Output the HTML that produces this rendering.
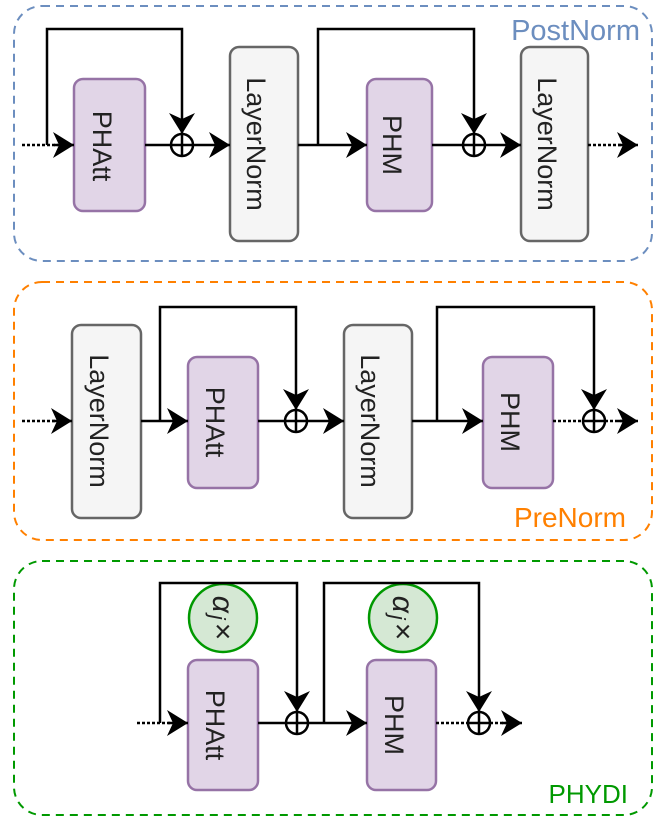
<!DOCTYPE html>
<html><head><meta charset="utf-8"><style>
html,body{margin:0;padding:0;background:#fff;}
svg{display:block;}
text{font-family:"Liberation Sans",sans-serif;}
</style></head><body>
<svg width="665" height="826" viewBox="0 0 665 826" xmlns="http://www.w3.org/2000/svg">
<defs>
<marker id="a" markerUnits="userSpaceOnUse" markerWidth="24" markerHeight="28" refX="21" refY="13" orient="auto">
<path d="M21,13 L0,0 L6,13 L0,26 Z" fill="#000"/>
</marker>
</defs>
<rect x="14" y="6" width="638" height="255" rx="28" fill="none" stroke="#6c8ebf" stroke-width="2" stroke-dasharray="8,6"/>
<text x="640" y="40" style="font-size:29px" fill="#6c8ebf" text-anchor="end">PostNorm</text>
<rect x="14" y="282" width="638" height="258" rx="28" fill="none" stroke="#ff8000" stroke-width="2" stroke-dasharray="8,6"/>
<text x="626" y="527" style="font-size:28px" fill="#ff8000" text-anchor="end">PreNorm</text>
<rect x="14" y="561" width="638" height="254" rx="28" fill="none" stroke="#009900" stroke-width="2" stroke-dasharray="8,6"/>
<text x="628" y="803" style="font-size:26px" fill="#009900" text-anchor="end">PHYDI</text>

<g stroke-width="2.5">
<rect x="74" y="79" width="71" height="132" rx="9" fill="#e1d5e7" stroke="#9673a6"/>
<rect x="230" y="47" width="68" height="194" rx="9" fill="#f5f5f5" stroke="#666"/>
<rect x="367" y="79" width="65" height="132" rx="9" fill="#e1d5e7" stroke="#9673a6"/>
<rect x="521" y="47" width="67" height="194" rx="9" fill="#f5f5f5" stroke="#666"/>
<rect x="72" y="325" width="69" height="193" rx="9" fill="#f5f5f5" stroke="#666"/>
<rect x="188" y="357" width="70" height="131" rx="9" fill="#e1d5e7" stroke="#9673a6"/>
<rect x="344" y="325" width="68" height="193" rx="9" fill="#f5f5f5" stroke="#666"/>
<rect x="483" y="357" width="70" height="131" rx="9" fill="#e1d5e7" stroke="#9673a6"/>
<rect x="188" y="660" width="70" height="130" rx="9" fill="#e1d5e7" stroke="#9673a6"/>
<rect x="367" y="660" width="69" height="130" rx="9" fill="#e1d5e7" stroke="#9673a6"/>
<circle cx="223" cy="618" r="34" fill="#d5e8d4" stroke="#009900"/>
<circle cx="403" cy="618" r="34" fill="#d5e8d4" stroke="#009900"/>
</g>

<g style="font-size:27px" fill="#222" text-anchor="middle">
<text transform="translate(103,146) rotate(90)" dy="10">PHAtt</text>
<text transform="translate(257,144) rotate(90)" dy="10">LayerNorm</text>
<text transform="translate(393,145) rotate(90)" dy="10">PHM</text>
<text transform="translate(548,144) rotate(90)" dy="10">LayerNorm</text>
<text transform="translate(100,421) rotate(90)" dy="10">LayerNorm</text>
<text transform="translate(216,422) rotate(90)" dy="10">PHAtt</text>
<text transform="translate(371,421) rotate(90)" dy="10">LayerNorm</text>
<text transform="translate(511,422) rotate(90)" dy="10">PHM</text>
<text transform="translate(216,725) rotate(90)" dy="10">PHAtt</text>
<text transform="translate(395,725) rotate(90)" dy="10">PHM</text>
<text transform="translate(221,618) rotate(90)" dy="8" font-family="Liberation Serif" style="font-size:30px;font-style:italic">α<tspan style="font-size:22px" dy="3" dx="2">j</tspan><tspan style="font-style:normal;font-family:'Liberation Sans'" dy="-3" dx="3">×</tspan></text>
<text transform="translate(401,618) rotate(90)" dy="8" font-family="Liberation Serif" style="font-size:30px;font-style:italic">α<tspan style="font-size:22px" dy="3" dx="2">j</tspan><tspan style="font-style:normal;font-family:'Liberation Sans'" dy="-3" dx="3">×</tspan></text>
</g>

<g fill="none" stroke="#000" stroke-width="2.5">
<line x1="22" y1="145" x2="58" y2="145" stroke-dasharray="3,2"/>
<line x1="54" y1="145" x2="74" y2="145" marker-end="url(#a)"/>
<polyline points="47,145 47,29 182,29 182,134" marker-end="url(#a)"/>
<line x1="145" y1="145" x2="171" y2="145"/>
<line x1="193" y1="145" x2="230" y2="145" marker-end="url(#a)"/>
<line x1="298" y1="145" x2="367" y2="145" marker-end="url(#a)"/>
<polyline points="318,145 318,29 474,29 474,134" marker-end="url(#a)"/>
<line x1="432" y1="145" x2="463" y2="145"/>
<line x1="485" y1="145" x2="521" y2="145" marker-end="url(#a)"/>
<line x1="588" y1="145" x2="626" y2="145" stroke-dasharray="3,2"/>
<line x1="618" y1="145" x2="638" y2="145" marker-end="url(#a)"/>
<circle cx="182" cy="145" r="11"/><line x1="171" y1="145" x2="193" y2="145"/><line x1="182" y1="134" x2="182" y2="156"/>
<circle cx="474" cy="145" r="11"/><line x1="463" y1="145" x2="485" y2="145"/><line x1="474" y1="134" x2="474" y2="156"/>
<line x1="22" y1="421" x2="56" y2="421" stroke-dasharray="3,2"/>
<line x1="52" y1="421" x2="72" y2="421" marker-end="url(#a)"/>
<line x1="141" y1="421" x2="188" y2="421" marker-end="url(#a)"/>
<polyline points="160,421 160,307 296,307 296,410" marker-end="url(#a)"/>
<line x1="258" y1="421" x2="285" y2="421"/>
<line x1="307" y1="421" x2="344" y2="421" marker-end="url(#a)"/>
<line x1="412" y1="421" x2="483" y2="421" marker-end="url(#a)"/>
<polyline points="437,421 437,307 594,307 594,410" marker-end="url(#a)"/>
<line x1="553" y1="421" x2="583" y2="421" stroke-dasharray="3,2"/>
<line x1="605" y1="421" x2="624" y2="421" stroke-dasharray="3,2"/>
<line x1="618" y1="421" x2="638" y2="421" marker-end="url(#a)"/>
<circle cx="296" cy="421" r="11"/><line x1="285" y1="421" x2="307" y2="421"/><line x1="296" y1="410" x2="296" y2="432"/>
<circle cx="594" cy="421" r="11"/><line x1="583" y1="421" x2="605" y2="421"/><line x1="594" y1="410" x2="594" y2="432"/>
<line x1="137" y1="723" x2="172" y2="723" stroke-dasharray="3,2"/>
<line x1="168" y1="723" x2="188" y2="723" marker-end="url(#a)"/>
<polyline points="160,723 160,583 297,583 297,712" marker-end="url(#a)"/>
<line x1="258" y1="723" x2="286" y2="723"/>
<line x1="308" y1="723" x2="367" y2="723" marker-end="url(#a)"/>
<polyline points="324,723 324,583 479,583 479,712" marker-end="url(#a)"/>
<line x1="436" y1="723" x2="468" y2="723" stroke-dasharray="3,2"/>
<line x1="490" y1="723" x2="508" y2="723" stroke-dasharray="3,2"/>
<line x1="502" y1="723" x2="522" y2="723" marker-end="url(#a)"/>
<circle cx="297" cy="723" r="11"/><line x1="286" y1="723" x2="308" y2="723"/><line x1="297" y1="712" x2="297" y2="734"/>
<circle cx="479" cy="723" r="11"/><line x1="468" y1="723" x2="490" y2="723"/><line x1="479" y1="712" x2="479" y2="734"/>
</g>
</svg>
</body></html>
